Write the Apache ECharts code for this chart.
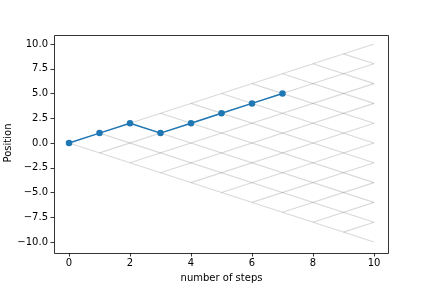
<!DOCTYPE html>
<html>
<head>
<meta charset="utf-8">
<script src="https://cdn.jsdelivr.net/npm/echarts@6/dist/echarts.min.js"></script>
<style>html,body{margin:0;padding:0;background:#fff;}#c{width:432px;height:288px;}</style>
</head>
<body>
<div id="c"></div>
<script>
// Data
const steps = [0, 1, 2, 3, 4, 5, 6, 7];
const positions = [0, 1, 2, 1, 2, 3, 4, 5];
const maxSteps = 10;
const xTicks = [0, 2, 4, 6, 8, 10];
const yTicks = [-10, -7.5, -5, -2.5, 0, 2.5, 5, 7.5, 10];

// lattice of all possible walks (binomial tree edges)
const latticeStarts = [];
for (let k = 0; k < maxSteps; k++) latticeStarts.push(k);
const lattice = [];
latticeStarts.forEach(k => {
  lattice.push({coords: [[k, -k], [maxSteps, maxSteps - 2 * k]]});
  lattice.push({coords: [[k, k], [maxSteps, 2 * k - maxSteps]]});
});

const chart = echarts.init(document.getElementById('c'), null, {renderer: 'canvas'});
const font = 'DejaVu Sans';
chart.setOption({
  animation: false,
  grid: {left: 69, right: 58, top: 44, bottom: 46, containLabel: false, outerBoundsMode: 'none'},
  xAxis: {
    type: 'value', min: 0, max: 10, interval: 2, offset: 11, position: 'bottom',
    name: 'number of steps', nameLocation: 'middle', nameGap: 20, nameMoveOverlap: false,
    nameTextStyle: {fontFamily: font, fontSize: 10, color: '#000'},
    axisLine: {show: false, onZero: false},
    axisTick: {show: true, length: 3.5, lineStyle: {color: '#000', width: 0.8}},
    axisLabel: {fontFamily: font, fontSize: 10, color: '#000', margin: 5},
    splitLine: {show: false}
  },
  yAxis: {
    type: 'value', min: -10, max: 10, interval: 2.5, offset: 15, position: 'left',
    name: 'Position', nameLocation: 'middle', nameGap: 41, nameMoveOverlap: false,
    nameTextStyle: {fontFamily: font, fontSize: 10, color: '#000'},
    axisLine: {show: false, onZero: false},
    axisTick: {show: true, length: 3.5, lineStyle: {color: '#000', width: 0.8}},
    axisLabel: {fontFamily: font, fontSize: 10, color: '#000', margin: 6,
      formatter: v => (v < 0 ? '\u2212' : '') + Math.abs(v).toFixed(1)},
    splitLine: {show: false}
  },
  graphic: [{
    type: 'rect', shape: {x: 54.5, y: 35.5, width: 334, height: 218},
    style: {fill: null, stroke: '#000', lineWidth: 0.8}, z: 100, silent: true
  }],
  series: [
    {
      type: 'lines', coordinateSystem: 'cartesian2d', data: lattice, z: 1,
      lineStyle: {color: '#000', opacity: 0.15, width: 1.2}, silent: true
    },
    {
      type: 'line', data: steps.map((s, i) => [s, positions[i]]), z: 5, clip: false,
      symbol: 'circle', symbolSize: 6.5, showSymbol: true,
      lineStyle: {color: '#1f77b4', width: 1.5},
      itemStyle: {color: '#1f77b4'}
    }
  ]
});
</script>
</body>
</html>
